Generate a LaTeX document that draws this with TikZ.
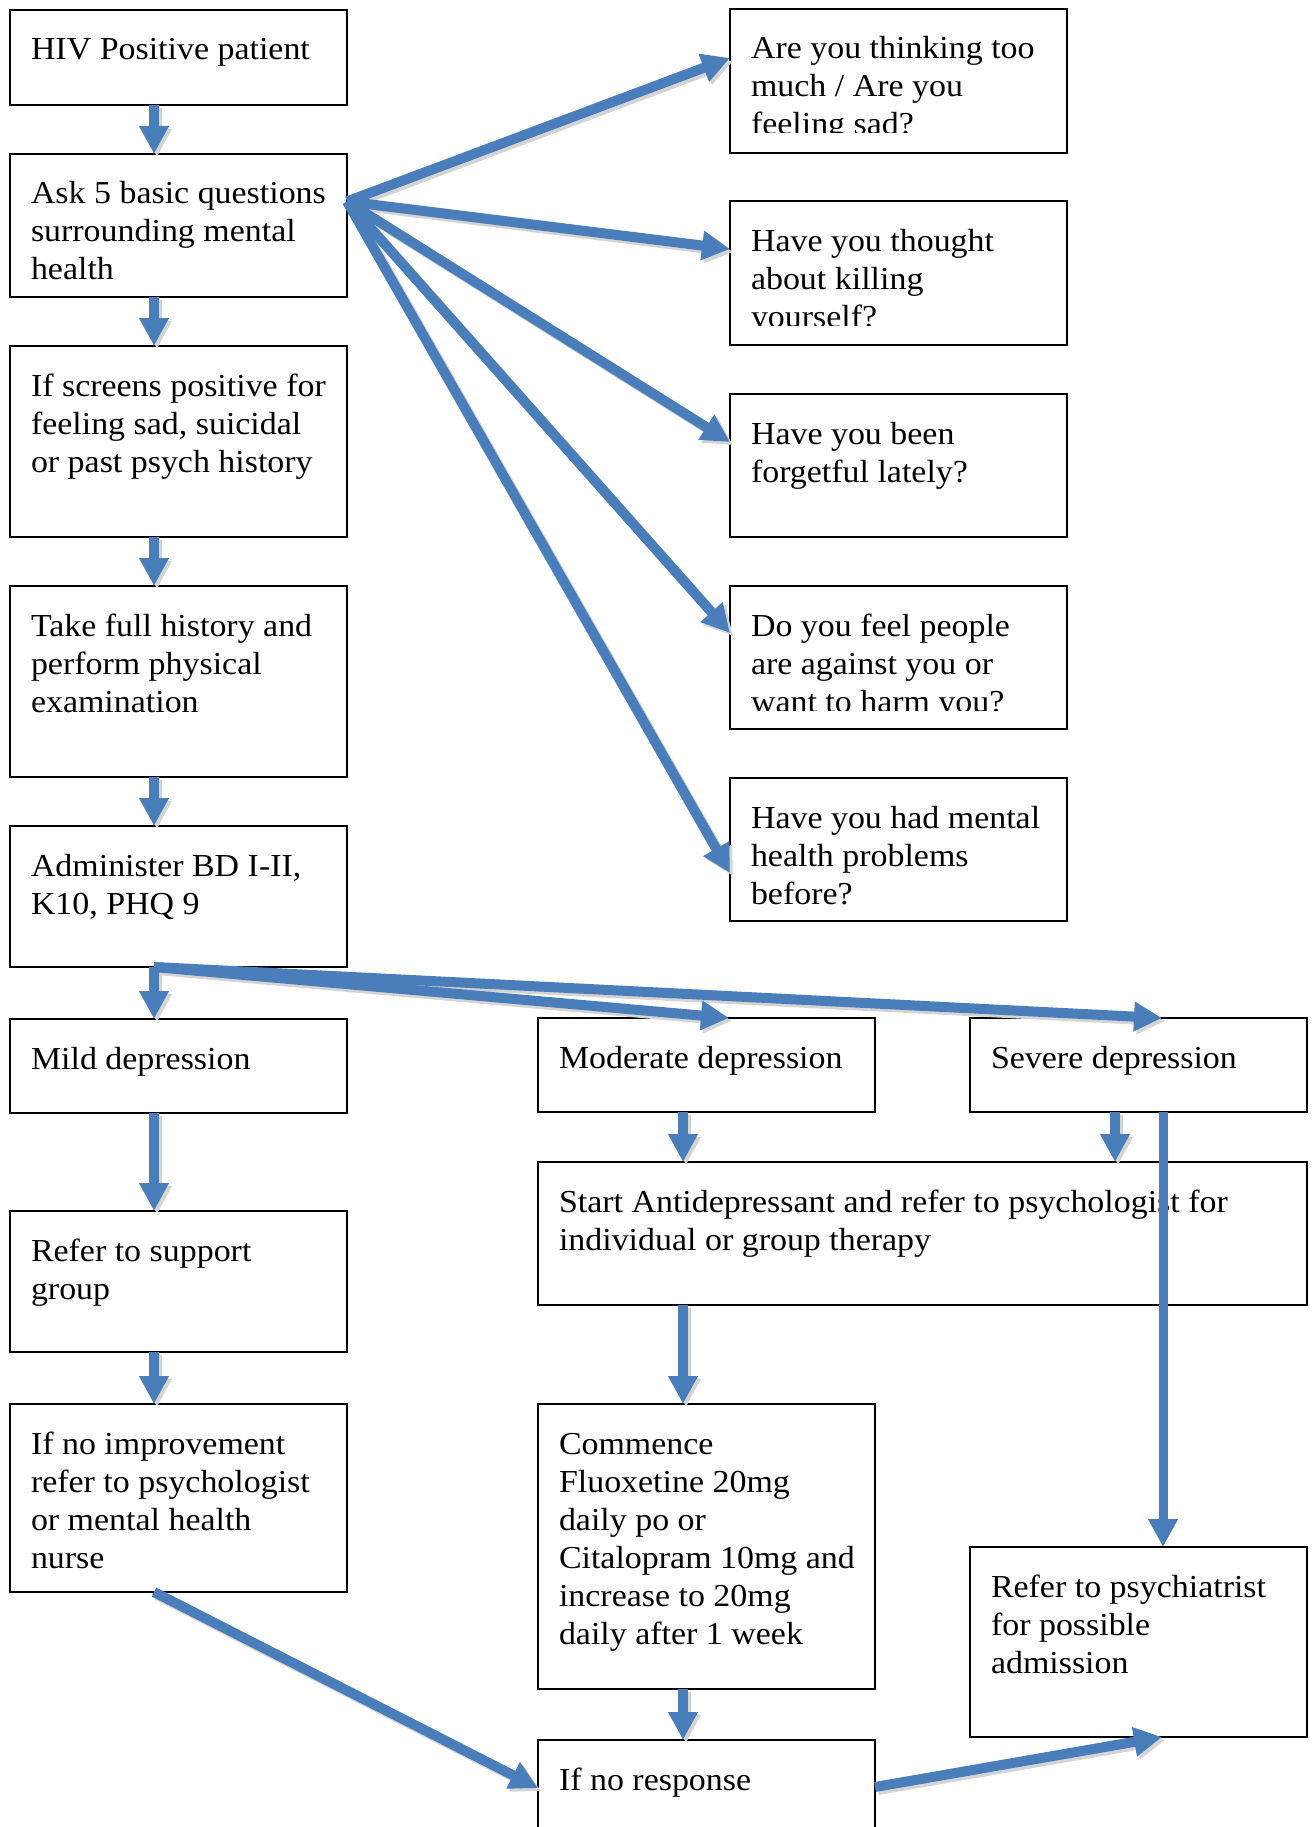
\documentclass[tikz,border=0pt]{standalone}
\usepackage{fontspec}
\setmainfont{Liberation Serif}[FakeStretch=1.06]
\usetikzlibrary{arrows.meta}
\definecolor{arrowblue}{HTML}{4A7EBB}
\definecolor{shadowgray}{HTML}{D4D4D4}
\tikzset{
  box/.style={draw=black, line width=1.2pt, fill=white, anchor=north west,
    inner sep=0pt, outer sep=0pt},
  txt/.style={anchor=north west, inner sep=0pt, outer sep=0pt, align=left,
    font=\fontsize{32}{38}\selectfont},
  arr/.style={draw=arrowblue, line width=10pt, -{Triangle[length=28pt,width=28pt]}},
  arrsh/.style={arr, draw=shadowgray, transform canvas={shift={(3pt,-3pt)}}},
}
\newcommand\shconn[2]{\draw[arrsh] #1 -- #2;}
\newcommand\blconn[2]{\draw[arr] #1 -- #2;}
\newcommand\conns[1]{%
  #1{([xshift=-24.5pt]hiv.south)}{([xshift=-24.5pt]ask.north)}%
  #1{([xshift=-24.5pt]ask.south)}{([xshift=-24.5pt]screens.north)}%
  #1{([xshift=-24.5pt]screens.south)}{([xshift=-24.5pt]take.north)}%
  #1{([xshift=-24.5pt]take.south)}{([xshift=-24.5pt]admin.north)}%
  #1{([xshift=-24.5pt]admin.south)}{([xshift=-24.5pt]mild.north)}%
  #1{([xshift=-24.5pt]mild.south)}{([xshift=-24.5pt]support.north)}%
  #1{([xshift=-24.5pt]support.south)}{([xshift=-24.5pt]noimp.north)}%
  #1{([yshift=24pt]ask.east)}{([yshift=23pt]q1.west)}%
  #1{([yshift=24pt]ask.east)}{([yshift=24pt]q2.west)}%
  #1{([yshift=24pt]ask.east)}{([yshift=23.5pt]q3.west)}%
  #1{([yshift=24pt]ask.east)}{([yshift=24.5pt]q4.west)}%
  #1{([yshift=24pt]ask.east)}{([yshift=-23.5pt]q5.west)}%
  #1{([xshift=-24.5pt]admin.south)}{([xshift=22.5pt]moderate.north)}%
  #1{([xshift=-24.5pt]admin.south)}{([xshift=23.5pt]severe.north)}%
  #1{([xshift=-23.5pt]moderate.south)}{([xshift=-23.5pt]moderate.south |- start.north)}%
  #1{([xshift=-23.5pt]severe.south)}{([xshift=-23.5pt]severe.south |- start.north)}%
  #1{([xshift=-23.5pt]commence.north |- start.south)}{([xshift=-23.5pt]commence.north)}%
  #1{([xshift=-23.5pt]commence.south)}{([xshift=-23.5pt]noresp.north)}%
  #1{([xshift=-24.5pt]noimp.south)}{([yshift=-48pt]noresp.north west)}%
  #1{([yshift=-47pt]noresp.north east)}{([xshift=23.5pt]psych.south)}%
}
\begin{document}
\begin{tikzpicture}[x=1pt, y=-1pt]
\useasboundingbox (0,0) rectangle (1314,1827);
% left column
\node[box, minimum width=337pt, minimum height=95pt] (hiv) at (10,10) {};
\node[box, minimum width=337pt, minimum height=143pt] (ask) at (10,154) {};
\node[box, minimum width=337pt, minimum height=191pt] (screens) at (10,346) {};
\node[box, minimum width=337pt, minimum height=191pt] (take) at (10,586) {};
\node[box, minimum width=337pt, minimum height=141pt] (admin) at (10,826) {};
\node[box, minimum width=337pt, minimum height=94pt] (mild) at (10,1019) {};
\node[box, minimum width=337pt, minimum height=141pt] (support) at (10,1211) {};
\node[box, minimum width=337pt, minimum height=188pt] (noimp) at (10,1404) {};
% questions
\node[box, minimum width=337pt, minimum height=144pt] (q1) at (730,9) {};
\node[box, minimum width=337pt, minimum height=144pt] (q2) at (730,201) {};
\node[box, minimum width=337pt, minimum height=143pt] (q3) at (730,394) {};
\node[box, minimum width=337pt, minimum height=143pt] (q4) at (730,586) {};
\node[box, minimum width=337pt, minimum height=143pt] (q5) at (730,778) {};
% lower
\node[box, minimum width=337pt, minimum height=94pt] (moderate) at (538,1018) {};
\node[box, minimum width=337pt, minimum height=94pt] (severe) at (970,1018) {};
\node[box, minimum width=769pt, minimum height=143pt] (start) at (538,1162) {};
\node[box, minimum width=337pt, minimum height=285pt] (commence) at (538,1404) {};
\node[box, minimum width=337pt, minimum height=110pt] (noresp) at (538,1740) {};
\node[box, minimum width=337pt, minimum height=190pt] (psych) at (970,1547) {};
% texts
\node[txt] (hiv-t) at ([xshift=21pt,yshift=-23.4pt]hiv.north west) {\strut HIV Positive patient};
\node[txt] (ask-t) at ([xshift=21pt,yshift=-23.4pt]ask.north west) {\strut Ask 5 basic questions\\surrounding mental\\health};
\node[txt] (screens-t) at ([xshift=21pt,yshift=-23.4pt]screens.north west) {\strut If screens positive for\\feeling sad, suicidal\\or past psych history};
\node[txt] (take-t) at ([xshift=21pt,yshift=-23.4pt]take.north west) {\strut Take full history and\\perform physical\\examination};
\node[txt] (admin-t) at ([xshift=21pt,yshift=-23.4pt]admin.north west) {\strut Administer BD I-II,\\K10, PHQ 9};
\node[txt] (mild-t) at ([xshift=21pt,yshift=-23.4pt]mild.north west) {\strut Mild depression};
\node[txt] (support-t) at ([xshift=21pt,yshift=-23.4pt]support.north west) {\strut Refer to support\\group};
\node[txt] (noimp-t) at ([xshift=21pt,yshift=-23.4pt]noimp.north west) {\strut If no improvement\\refer to psychologist\\or mental health\\nurse};
\begin{scope}
  \clip (q1.north west) rectangle ([yshift=20pt]q1.south east);
  \node[txt] (q1-t) at ([xshift=21pt,yshift=-23.4pt]q1.north west) {\strut Are you thinking too\\much / Are you\\feeling sad?};
\end{scope}
\begin{scope}
  \clip (q2.north west) rectangle ([yshift=20pt]q2.south east);
  \node[txt] (q2-t) at ([xshift=21pt,yshift=-23.4pt]q2.north west) {\strut Have you thought\\about killing\\yourself?};
\end{scope}
\node[txt] (q3-t) at ([xshift=21pt,yshift=-23.4pt]q3.north west) {\strut Have you been\\forgetful lately?};
\begin{scope}
  \clip (q4.north west) rectangle ([yshift=19pt]q4.south east);
  \node[txt] (q4-t) at ([xshift=21pt,yshift=-23.4pt]q4.north west) {\strut Do you feel people\\are against you or\\want to harm you?};
\end{scope}
\node[txt] (q5-t) at ([xshift=21pt,yshift=-23.4pt]q5.north west) {\strut Have you had mental\\health problems\\before?};
\node[txt] (moderate-t) at ([xshift=21pt,yshift=-23.4pt]moderate.north west) {\strut Moderate depression};
\node[txt] (severe-t) at ([xshift=21pt,yshift=-23.4pt]severe.north west) {\strut Severe depression};
\node[txt] (start-t) at ([xshift=21pt,yshift=-23.4pt]start.north west) {\strut Start Antidepressant and refer to psychologist for\\individual or group therapy};
\node[txt] (commence-t) at ([xshift=21pt,yshift=-23.4pt]commence.north west) {\strut Commence\\Fluoxetine 20mg\\daily po or\\Citalopram 10mg and\\increase to 20mg\\daily after 1 week};
\node[txt] (noresp-t) at ([xshift=21pt,yshift=-23.4pt]noresp.north west) {\strut If no response};
\node[txt] (psych-t) at ([xshift=21pt,yshift=-23.4pt]psych.north west) {\strut Refer to psychiatrist\\for possible\\admission};
% connectors
\conns\shconn
\conns\blconn
\draw[arr, line width=9pt] ([xshift=24.5pt]severe.south) -- ([xshift=24.5pt]psych.north);
\end{tikzpicture}
\end{document}
